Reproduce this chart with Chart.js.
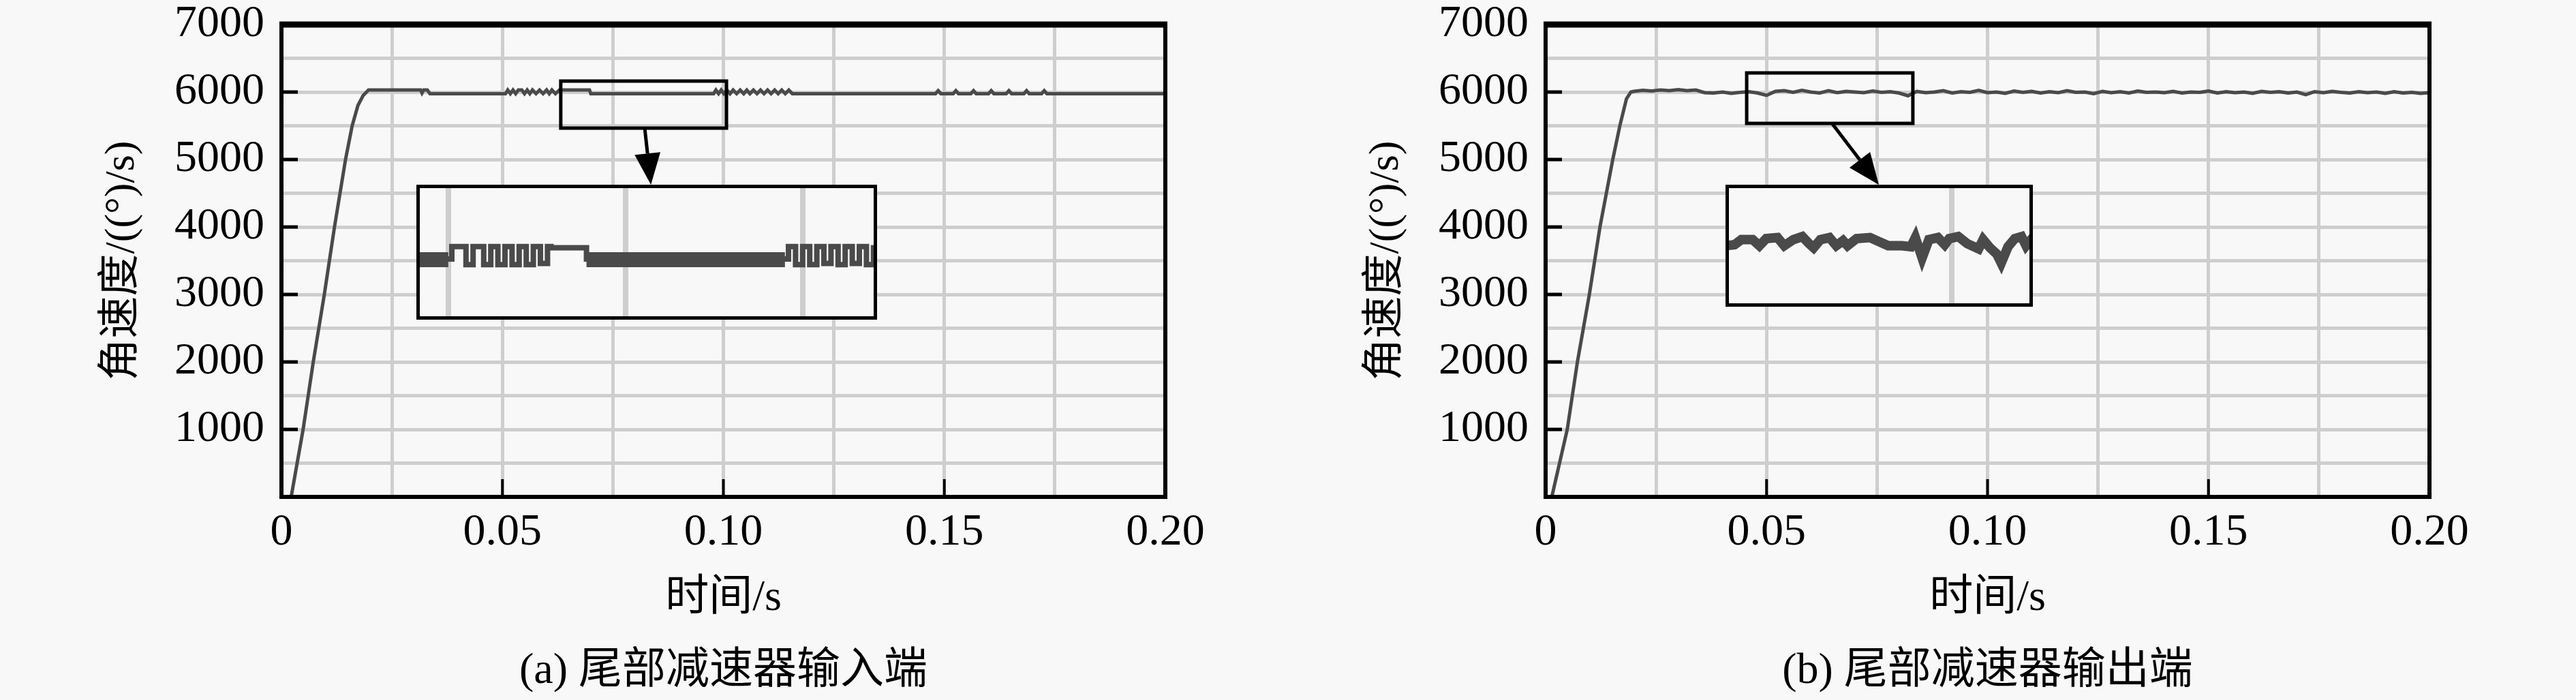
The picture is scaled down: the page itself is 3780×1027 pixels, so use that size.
<!DOCTYPE html>
<html>
<head>
<meta charset="utf-8">
<script src="https://cdn.jsdelivr.net/npm/chart.js@4.4.1/dist/chart.umd.min.js"></script>
<style>
    html, body { margin: 0; padding: 0; background: #f8f8f8; }
    body { width: 3780px; height: 1027px; position: relative; overflow: hidden; }
    canvas { position: absolute; top: 0; }
</style>
</head>
<body>
<canvas id="chartA" width="1855" height="1027" style="left:0px"></canvas>
<canvas id="insetA"></canvas>
<canvas id="chartB" width="1855" height="1027" style="left:1855px"></canvas>
<canvas id="insetB"></canvas>
<script>
// 坐标轴
const xGrid = [0, 0.025, 0.05, 0.075, 0.10, 0.125, 0.15, 0.175, 0.20];
const xTickValues = [0, 0.05, 0.10, 0.15, 0.20];
const xTickLabels = ['0', '0.05', '0.10', '0.15', '0.20'];
const yGrid = [0, 500, 1000, 1500, 2000, 2500, 3000, 3500, 4000, 4500, 5000, 5500, 6000, 6500, 7000];
const yTickValues = [1000, 2000, 3000, 4000, 5000, 6000, 7000];
const yTickLabels = ['1000', '2000', '3000', '4000', '5000', '6000', '7000'];

const xTitle = '时间/s';
const yTitle = '角速度/((°)/s)';
const captionA = '(a) 尾部减速器输入端';
const captionB = '(b) 尾部减速器输出端';

// (a) 输入端 [时间, 角速度]
const pointsA = [
    [0, 0], [0.0022, 0], [0.0049, 1000], [0.0072, 2000], [0.0097, 3000], [0.0120, 4000],
    [0.0145, 5000], [0.0160, 5500], [0.0173, 5800], [0.0185, 5950], [0.0197, 6030],
    [0.0315, 6030], [0.0318, 5985], [0.0322, 6030], [0.0330, 6030], [0.0336, 5975],
    [0.0507, 5975], [0.0512, 6030], [0.0518, 5975], [0.0524, 6030], [0.0530, 5975], [0.0536, 6030],
    [0.0544, 6030], [0.0550, 5975], [0.0556, 6030], [0.0562, 5975], [0.0568, 6030], [0.0576, 5975],
    [0.0584, 6030], [0.0592, 5975], [0.0600, 6030], [0.0606, 5975], [0.0612, 6030], [0.0620, 5975],
    [0.0629, 6030], [0.0697, 6030], [0.0700, 5975],
    [0.0978, 5975], [0.0983, 6030], [0.0989, 5975], [0.0995, 6030], [0.1001, 5975], [0.1008, 6030],
    [0.1015, 5975], [0.1022, 6030], [0.1030, 5975], [0.1038, 6030], [0.1046, 5975], [0.1053, 6030],
    [0.1060, 5975], [0.1068, 6030], [0.1076, 5975], [0.1084, 6030], [0.1092, 5975], [0.1100, 6030],
    [0.1108, 5975], [0.1116, 6030], [0.1124, 5975], [0.1132, 6030], [0.1140, 5975], [0.1148, 6030],
    [0.1156, 5975], [0.1162, 5975],
    [0.1480, 5975], [0.1486, 6020], [0.1492, 5975], [0.1520, 5975], [0.1526, 6020], [0.1532, 5975],
    [0.1560, 5975], [0.1566, 6020], [0.1572, 5975], [0.1600, 5975], [0.1606, 6020], [0.1612, 5975],
    [0.1640, 5975], [0.1646, 6020], [0.1652, 5975], [0.1680, 5975], [0.1686, 6020], [0.1692, 5975],
    [0.1720, 5975], [0.1726, 6020], [0.1732, 5975], [0.2000, 5975]
];

// (b) 输出端 [时间, 角速度]
const pointsB = [
    [0, 0], [0.0014, 0], [0.0049, 1000], [0.0072, 2000], [0.0099, 3000], [0.0123, 4000],
    [0.0152, 5000], [0.0168, 5500], [0.0183, 5900], [0.0193, 6000],
    [0.020, 6010], [0.022, 6025], [0.024, 6015], [0.026, 6030], [0.028, 6020], [0.030, 6035],
    [0.032, 6020], [0.034, 6030], [0.036, 5990], [0.038, 5985], [0.040, 6000], [0.042, 5980],
    [0.044, 5995], [0.046, 6005], [0.048, 5985], [0.050, 5950], [0.052, 6010], [0.054, 6020],
    [0.056, 5995], [0.058, 6025], [0.060, 6000], [0.062, 5985], [0.064, 6020], [0.066, 5990],
    [0.068, 6010], [0.070, 6000], [0.072, 5990], [0.074, 6015], [0.076, 5995], [0.078, 6005],
    [0.080, 5985], [0.082, 5945], [0.084, 6010], [0.086, 5990], [0.088, 6000], [0.090, 6020],
    [0.092, 5985], [0.094, 6005], [0.096, 5995], [0.098, 6025], [0.100, 5990], [0.102, 6000],
    [0.104, 5980], [0.106, 6015], [0.108, 5995], [0.110, 6010], [0.112, 5985], [0.114, 6005],
    [0.116, 5990], [0.118, 6020], [0.120, 5995], [0.122, 6000], [0.124, 5975], [0.126, 6010],
    [0.128, 5990], [0.130, 6005], [0.132, 5985], [0.134, 6015], [0.136, 5995], [0.138, 6000],
    [0.140, 5990], [0.142, 6010], [0.144, 5985], [0.146, 6000], [0.148, 5995], [0.150, 6015],
    [0.152, 5985], [0.154, 6005], [0.156, 5990], [0.158, 6000], [0.160, 5980], [0.162, 6010],
    [0.164, 5995], [0.166, 6005], [0.168, 5985], [0.170, 6000], [0.172, 5960], [0.174, 6005],
    [0.176, 5990], [0.178, 6010], [0.180, 5995], [0.182, 5985], [0.184, 6005], [0.186, 5990],
    [0.188, 6000], [0.190, 5980], [0.192, 6005], [0.194, 5985], [0.196, 5995], [0.198, 5980],
    [0.200, 5990]
];

// 局部放大图 (a)
const insetLineA = [
    [0.0641, 5970], [0.0650, 5970], [0.0651, 6025], [0.0654, 6025], [0.0655, 5945], [0.0657, 6025],
    [0.0659, 6025], [0.0660, 5945], [0.0662, 6025], [0.0664, 5945], [0.0666, 6025], [0.0668, 5945],
    [0.0670, 6025], [0.0672, 5945], [0.0674, 6025], [0.0676, 5950], [0.0678, 6025], [0.0679, 6020],
    [0.0688, 6020], [0.0689, 5970], [0.0745, 5970], [0.0746, 6025], [0.0748, 5945], [0.0750, 6025],
    [0.0752, 5945], [0.0754, 6025], [0.0756, 5950], [0.0758, 6025], [0.0760, 5945], [0.0762, 6025],
    [0.0764, 5950], [0.0766, 6025], [0.0768, 5945], [0.0770, 6020], [0.0771, 5975]
];
const insetBandA = [
    [0.0641, 5967], [0.0650, 5967], [0.0651, null], [0.0689, 5967], [0.0745, 5967]
];
// 局部放大图 (b)
const insetLineB = [
    [0.0600, 6000], [0.0604, 6005], [0.0607, 6030], [0.0612, 6030], [0.0615, 6000], [0.0618, 6035],
    [0.0623, 6040], [0.0626, 6000], [0.0630, 6030], [0.0634, 6045], [0.0637, 6010], [0.0639, 5990],
    [0.0642, 6030], [0.0646, 6040], [0.0649, 6000], [0.0652, 6025], [0.0654, 6000], [0.0658, 6035],
    [0.0664, 6040], [0.0668, 6020], [0.0672, 6000], [0.0678, 6000], [0.0682, 5995], [0.0684, 6040],
    [0.0687, 5940], [0.0690, 6030], [0.0694, 6040], [0.0697, 6005], [0.0699, 6035], [0.0703, 6045],
    [0.0707, 6010], [0.0712, 5985], [0.0714, 6030], [0.0717, 5990], [0.0720, 5960], [0.0722, 5915],
    [0.0725, 5995], [0.0728, 6035], [0.0731, 6045], [0.0733, 6000], [0.0736, 6040]
];

// 放大区域 [xMin, xMax, yMin, yMax]
const zoomBoxA = [0.0632, 0.1007, 5465, 6162];
const insetBoxA = [0.0305, 0.1348, 2626, 4626];
const insetRangeA = [0.0641, 0.0771, 5700, 6300];
const insetGridA = [0.065, 0.070, 0.075];
const arrowA = [0.0822, 5465, 0.0836, 4626];

const zoomBoxB = [0.0455, 0.0831, 5535, 6283];
const insetBoxB = [0.0407, 0.1103, 2818, 4626];
const insetRangeB = [0.0600, 0.0736, 5700, 6300];
const insetGridB = [0.070];
const arrowB = [0.0648, 5535, 0.0754, 4626];

const SERIF = "'Liberation Serif', 'Noto Sans CJK SC', serif";
const GRID = '#cecece';
const LINE = '#4a4a4a';

function toXY(points) {
    return points.map(p => ({ x: p[0], y: p[1] }));
}

function pickLabel(values, labels, v) {
    const i = values.findIndex(t => Math.abs(t - v) < 1e-9);
    return i < 0 ? '' : labels[i];
}

function drawArrow(ctx, x0, y0, x1, y1) {
    const ang = Math.atan2(y1 - y0, x1 - x0);
    const head = 46, half = 19;
    const bx = x1 - head * Math.cos(ang), by = y1 - head * Math.sin(ang);
    ctx.beginPath();
    ctx.moveTo(x0, y0);
    ctx.lineTo(bx, by);
    ctx.stroke();
    ctx.beginPath();
    ctx.moveTo(x1, y1);
    ctx.lineTo(bx + half * Math.sin(ang), by - half * Math.cos(ang));
    ctx.lineTo(bx - half * Math.sin(ang), by + half * Math.cos(ang));
    ctx.closePath();
    ctx.fill();
}

// 边框、内刻度、放大框、箭头和图注
const framePlugin = {
    id: 'frame',
    beforeDraw(chart, args, opts) {
        if (!opts.fill) return;
        const ctx = chart.ctx;
        ctx.save();
        ctx.fillStyle = opts.fill;
        ctx.fillRect(0, 0, chart.width, chart.height);
        ctx.restore();
    },
    afterDatasetsDraw(chart, args, opts) {
        const { ctx, chartArea: a, scales } = chart;
        ctx.save();
        ctx.strokeStyle = '#000';
        ctx.fillStyle = '#000';
        ctx.lineWidth = opts.width;
        const inset = opts.inner ? opts.width / 2 : 0;
        ctx.strokeRect(a.left + inset, a.top + inset, a.right - a.left - 2 * inset, a.bottom - a.top - 2 * inset);
        if (opts.topWidth) {
            ctx.lineWidth = opts.topWidth;
            ctx.beginPath();
            ctx.moveTo(a.left - 3, a.top);
            ctx.lineTo(a.right + 3, a.top);
            ctx.stroke();
        }
        if (opts.xTicks) {
            ctx.lineWidth = 4;
            opts.xTicks.forEach(v => {
                const px = scales.x.getPixelForValue(v);
                ctx.beginPath();
                ctx.moveTo(px, a.bottom);
                ctx.lineTo(px, a.bottom - 26);
                ctx.stroke();
            });
        }
        if (opts.yTicks) {
            ctx.lineWidth = 5;
            opts.yTicks.forEach(v => {
                const py = scales.y.getPixelForValue(v);
                ctx.beginPath();
                ctx.moveTo(a.left, py);
                ctx.lineTo(a.left + 24, py);
                ctx.stroke();
            });
        }
        if (opts.zoomBox) {
            const b = opts.zoomBox;
            const l = scales.x.getPixelForValue(b[0]), r = scales.x.getPixelForValue(b[1]);
            const t = scales.y.getPixelForValue(b[3]), btm = scales.y.getPixelForValue(b[2]);
            ctx.lineWidth = 5;
            ctx.strokeRect(l, t, r - l, btm - t);
        }
        if (opts.arrow) {
            const w = opts.arrow;
            ctx.lineWidth = 5;
            drawArrow(ctx, scales.x.getPixelForValue(w[0]), scales.y.getPixelForValue(w[1]),
                scales.x.getPixelForValue(w[2]), scales.y.getPixelForValue(w[3]));
        }
        if (opts.caption) {
            ctx.font = '64px ' + SERIF;
            ctx.textAlign = 'center';
            ctx.textBaseline = 'middle';
            ctx.fillText(opts.caption, (a.left + a.right) / 2, 985);
        }
        ctx.restore();
    }
};

function makeMainChart(id, points, caption, zoomBox, arrow) {
    return new Chart(document.getElementById(id), {
        type: 'line',
        data: {
            datasets: [{
                data: toXY(points),
                borderColor: LINE,
                borderWidth: 5,
                pointRadius: 0,
                tension: 0,
                fill: false
            }]
        },
        options: {
            responsive: false,
            animation: false,
            devicePixelRatio: 1,
            layout: { padding: { left: 0, top: 36, right: 145, bottom: 0 } },
            plugins: {
                legend: { display: false },
                tooltip: { enabled: false },
                frame: {
                    width: 6,
                    topWidth: 9,
                    xTicks: xTickValues.slice(1, -1),
                    yTicks: yTickValues.slice(0, -1),
                    zoomBox: zoomBox,
                    arrow: arrow,
                    caption: caption
                }
            },
            scales: {
                x: {
                    type: 'linear',
                    min: 0,
                    max: 0.2,
                    afterFit: s => { s.height = 298; s.paddingLeft = 0; s.paddingRight = 0; },
                    afterBuildTicks: s => { s.ticks = xGrid.map(v => ({ value: v })); },
                    grid: { color: GRID, lineWidth: 5, drawTicks: false },
                    border: { display: false },
                    ticks: {
                        autoSkip: false,
                        maxRotation: 0,
                        padding: 13,
                        color: '#000',
                        font: { family: SERIF, size: 66 },
                        callback: v => pickLabel(xTickValues, xTickLabels, v)
                    },
                    title: {
                        display: true,
                        text: xTitle,
                        color: '#000',
                        font: { family: SERIF, size: 64 },
                        padding: { top: 0, bottom: 110 }
                    }
                },
                y: {
                    type: 'linear',
                    min: 0,
                    max: 7000,
                    afterFit: s => { s.width = 413; s.paddingTop = 0; s.paddingBottom = 0; },
                    afterBuildTicks: s => { s.ticks = yGrid.map(v => ({ value: v })); },
                    grid: { color: GRID, lineWidth: 5, drawTicks: false },
                    border: { display: false },
                    ticks: {
                        autoSkip: false,
                        padding: 25,
                        color: '#000',
                        font: { family: SERIF, size: 66, lineHeight: 1 },
                        callback: v => pickLabel(yTickValues, yTickLabels, v)
                    },
                    title: {
                        display: true,
                        text: yTitle,
                        color: '#000',
                        font: { family: SERIF, size: 62 },
                        padding: { top: 143, bottom: 0 }
                    }
                }
            }
        },
        plugins: [framePlugin]
    });
}

function makeInset(mainChart, mainLeft, canvasId, box, range, gridValues, datasets) {
    const xs = mainChart.scales.x, ys = mainChart.scales.y;
    const l = Math.round(xs.getPixelForValue(box[0]));
    const r = Math.round(xs.getPixelForValue(box[1]));
    const t = Math.round(ys.getPixelForValue(box[3]));
    const b = Math.round(ys.getPixelForValue(box[2]));
    const canvas = document.getElementById(canvasId);
    canvas.width = r - l;
    canvas.height = b - t;
    canvas.style.left = (mainLeft + l) + 'px';
    canvas.style.top = t + 'px';
    return new Chart(canvas, {
        type: 'line',
        data: { datasets: datasets },
        options: {
            responsive: false,
            animation: false,
            devicePixelRatio: 1,
            layout: { padding: 0 },
            plugins: {
                legend: { display: false },
                tooltip: { enabled: false },
                frame: { width: 5, inner: true, fill: '#f8f8f8' }
            },
            scales: {
                x: {
                    type: 'linear',
                    min: range[0],
                    max: range[1],
                    afterFit: s => { s.height = 0; },
                    afterBuildTicks: s => { s.ticks = gridValues.map(v => ({ value: v })); },
                    grid: { color: GRID, lineWidth: 8, drawTicks: false },
                    border: { display: false },
                    ticks: { display: false }
                },
                y: {
                    type: 'linear',
                    display: false,
                    min: range[2],
                    max: range[3]
                }
            }
        },
        plugins: [framePlugin]
    });
}

const chartA = makeMainChart('chartA', pointsA, captionA, zoomBoxA, arrowA);
const chartB = makeMainChart('chartB', pointsB, captionB, zoomBoxB, arrowB);

makeInset(chartA, 0, 'insetA', insetBoxA, insetRangeA, insetGridA, [
    { data: toXY(insetBandA), borderColor: LINE, borderWidth: 22, pointRadius: 0, spanGaps: false, borderCapStyle: 'butt' },
    { data: toXY(insetLineA), borderColor: LINE, borderWidth: 8, pointRadius: 0, stepped: 'before' }
]);
makeInset(chartB, 1855, 'insetB', insetBoxB, insetRangeB, insetGridB, [
    { data: toXY(insetLineB), borderColor: LINE, borderWidth: 14, pointRadius: 0 }
]);
</script>
</body>
</html>
